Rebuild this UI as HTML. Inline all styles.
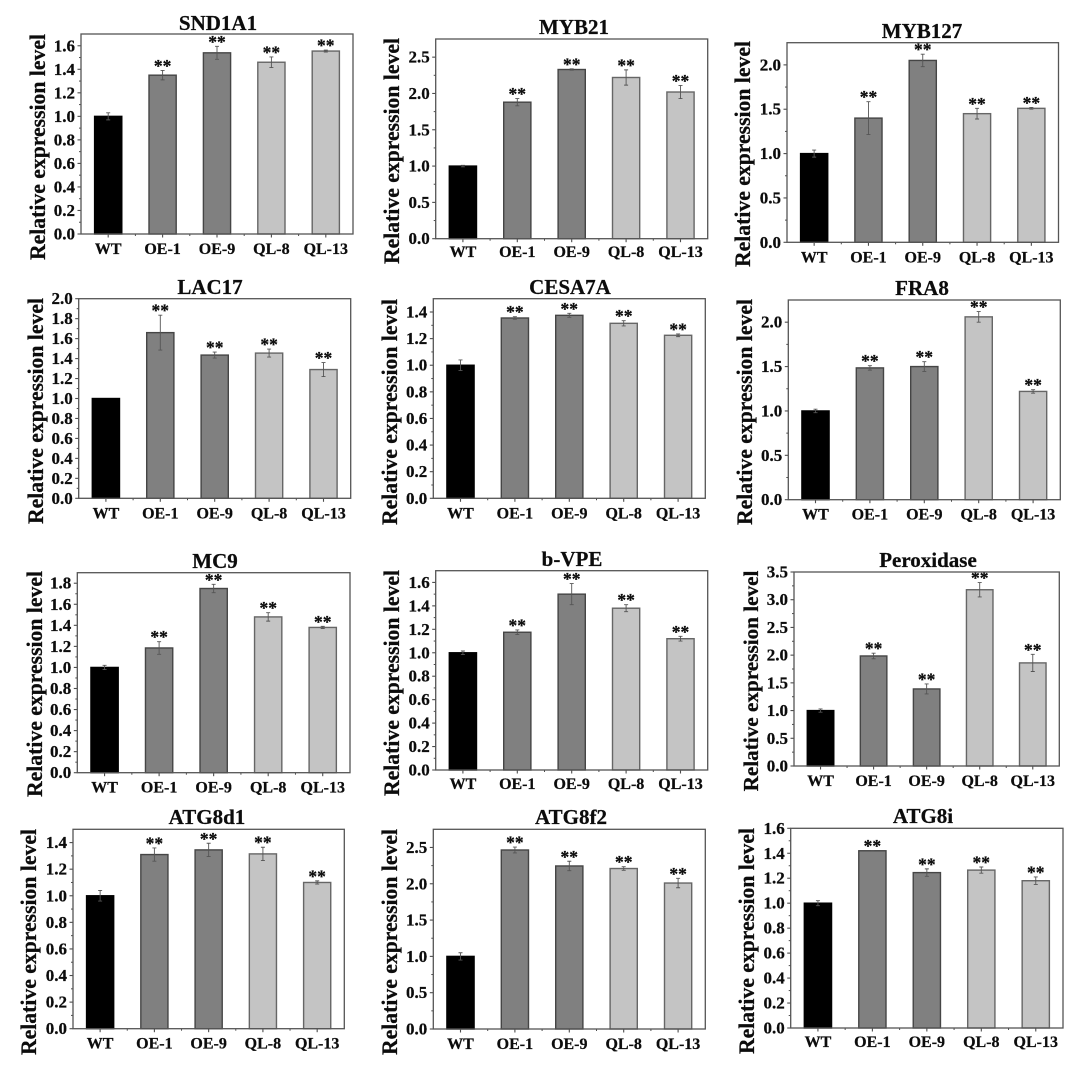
<!DOCTYPE html>
<html lang="en">
<head>
<meta charset="utf-8">
<title>Relative expression levels of twelve genes</title>
<style>
  html, body { margin: 0; padding: 0; background: #fff; width: 1084px; height: 1077px; overflow: hidden; }
  svg { display: block; filter: blur(0.35px); }
  text { font-family: "Liberation Serif", "Times New Roman", serif; font-weight: bold; fill: #0c0c0c; stroke: #0c0c0c; stroke-width: 0.25px; }
</style>
</head>
<body>
<svg id="figure" xmlns="http://www.w3.org/2000/svg" width="1084" height="1077" viewBox="0 0 1084 1077"></svg>
<script>
const categories = ['WT', 'OE-1', 'OE-9', 'QL-8', 'QL-13'];
const significance = ['', '**', '**', '**', '**'];
const yAxisTitle = 'Relative expression level';

const ticksTenths = [0, 0.2, 0.4, 0.6, 0.8, 1.0, 1.2, 1.4, 1.6];
const ticksToTwo = [0, 0.2, 0.4, 0.6, 0.8, 1.0, 1.2, 1.4, 1.6, 1.8, 2.0];
const ticksToEighteen = [0, 0.2, 0.4, 0.6, 0.8, 1.0, 1.2, 1.4, 1.6, 1.8];
const ticksToFourteen = [0, 0.2, 0.4, 0.6, 0.8, 1.0, 1.2, 1.4];
const ticksHalvesToTwo = [0, 0.5, 1.0, 1.5, 2.0];
const ticksHalvesToTwoFive = [0, 0.5, 1.0, 1.5, 2.0, 2.5];
const ticksHalvesToThreeFive = [0, 0.5, 1.0, 1.5, 2.0, 2.5, 3.0, 3.5];

const valuesSND1A1 = [1.0, 1.35, 1.54, 1.46, 1.555];
const errorsSND1A1 = [0.03, 0.04, 0.055, 0.045, 0.008];
const valuesMYB21 = [1.0, 1.88, 2.33, 2.22, 2.02];
const errorsMYB21 = [0.01, 0.05, 0.01, 0.105, 0.09];
const valuesMYB127 = [1.0, 1.4, 2.05, 1.45, 1.51];
const errorsMYB127 = [0.04, 0.185, 0.07, 0.06, 0.01];
const valuesLAC17 = [1.0, 1.66, 1.435, 1.455, 1.29];
const errorsLAC17 = [0, 0.175, 0.03, 0.04, 0.07];
const valuesCESA7A = [1.0, 1.355, 1.375, 1.315, 1.225];
const errorsCESA7A = [0.04, 0.01, 0.015, 0.02, 0.01];
const valuesFRA8 = [1.0, 1.485, 1.5, 2.06, 1.22];
const errorsFRA8 = [0.02, 0.025, 0.055, 0.06, 0.02];
const valuesMC9 = [1.0, 1.185, 1.75, 1.48, 1.38];
const errorsMC9 = [0.02, 0.06, 0.04, 0.04, 0.01];
const valuesBVPE = [1.0, 1.175, 1.5, 1.38, 1.12];
const errorsBVPE = [0.015, 0.02, 0.09, 0.03, 0.02];
const valuesPeroxidase = [1.0, 1.985, 1.39, 3.18, 1.86];
const errorsPeroxidase = [0.03, 0.05, 0.09, 0.13, 0.155];
const valuesATG8d1 = [1.0, 1.31, 1.345, 1.315, 1.1];
const errorsATG8d1 = [0.04, 0.05, 0.05, 0.05, 0.012];
const valuesATG8f2 = [1.0, 2.465, 2.245, 2.21, 2.01];
const errorsATG8f2 = [0.05, 0.04, 0.065, 0.025, 0.065];
const valuesATG8i = [1.0, 1.42, 1.245, 1.265, 1.18];
const errorsATG8i = [0.02, 0.003, 0.03, 0.025, 0.03];

const SVG_NS = 'http://www.w3.org/2000/svg';
const figure = document.getElementById('figure');
const barFills = ['#000000', '#808080', '#808080', '#c4c4c4', '#c4c4c4'];
const barStrokes = ['#000000', '#454545', '#454545', '#666666', '#666666'];

function make(parent, tag, attrs, content) {
  const el = document.createElementNS(SVG_NS, tag);
  for (const key in attrs) el.setAttribute(key, attrs[key]);
  if (content !== undefined) el.textContent = content;
  parent.appendChild(el);
  return el;
}

function linearY(frame, yMax) {
  return function (v) { return frame.bottom - (v / yMax) * (frame.bottom - frame.top); };
}

function bandX(frame, count) {
  const step = (frame.right - frame.left) / count;
  return function (i) { return frame.left + step * (i + 0.5); };
}

function drawPanel(title, slug, values, errors, ticks, yMax, frame) {
  const y = linearY(frame, yMax);
  const x = bandX(frame, categories.length);
  const step = (frame.right - frame.left) / categories.length;
  const barWidth = step * 0.5;

  const panel = make(figure, 'g', {});
  
  

  const titleEl = make(panel, 'text', { x: frame.titleX, y: frame.titleY, 'text-anchor': 'middle', 'font-size': 21 }, title);
  
  

  const yTitleEl = make(panel, 'text', {
    transform: 'translate(' + frame.yTitleX + ',' + frame.yTitleY + ') rotate(-90)',
    'text-anchor': 'middle',
    'font-size': frame.yTitleSize || 21.7
  }, yAxisTitle);
  
  

  values.forEach(function (value, i) {
    const top = y(value);
    const cx = x(i);
    const errTop = y(value + errors[i]);
    const errBottom = y(value - errors[i]);

    const bar = make(panel, 'rect', {
      x: cx - barWidth / 2, y: top, width: barWidth, height: frame.bottom - top,
      fill: barFills[i], stroke: barStrokes[i], 'stroke-width': 1.4
    });
    
    

    if (errors[i] > 0) {
      const whisker = make(panel, 'path', {
        d: 'M' + cx + ' ' + errTop + 'V' + errBottom +
           'M' + (cx - 2) + ' ' + errTop + 'H' + (cx + 2) +
           'M' + (cx - 2) + ' ' + errBottom + 'H' + (cx + 2),
        fill: 'none', stroke: '#555555', 'stroke-width': 0.9
      });
      
      
    }

    if (significance[i]) {
      const star = make(panel, 'text', { x: cx, y: errTop + 1.5, 'text-anchor': 'middle', 'font-size': 17.5 }, significance[i]);
      
      
    }

    const label = make(panel, 'text', {
      x: cx, y: frame.bottom + (frame.xLabelGap || 20), 'text-anchor': 'middle', 'font-size': 16
    }, categories[i]);
    
    

    const xTick = make(panel, 'line', {
      x1: cx, x2: cx, y1: frame.bottom, y2: frame.bottom + 3.5, stroke: '#4d4d4d', 'stroke-width': 1.1
    });
    
    

    if (i < values.length - 1) {
      const xMinor = make(panel, 'line', {
        x1: cx + step / 2, x2: cx + step / 2, y1: frame.bottom, y2: frame.bottom + 2, stroke: '#4d4d4d', 'stroke-width': 1
      });
      
      
    }
  });

  const spacing = ticks[1] - ticks[0];
  ticks.forEach(function (tick) {
    const ty = y(tick);
    const major = make(panel, 'line', {
      x1: frame.left - 3.5, x2: frame.left, y1: ty, y2: ty, stroke: '#4d4d4d', 'stroke-width': 1.1
    });
    
    

    const tickLabel = make(panel, 'text', {
      x: frame.left - 6, y: ty + 5.5, 'text-anchor': 'end', 'font-size': 17
    }, tick.toFixed(1));
    
    

    const minorValue = tick + spacing / 2;
    if (minorValue < yMax) {
      const my = y(minorValue);
      const minor = make(panel, 'line', {
        x1: frame.left - 2, x2: frame.left, y1: my, y2: my, stroke: '#4d4d4d', 'stroke-width': 1
      });
      
      
    }
  });

  const plotFrame = make(panel, 'rect', {
    x: frame.left, y: frame.top, width: frame.right - frame.left, height: frame.bottom - frame.top,
    fill: 'none', stroke: '#555555', 'stroke-width': 1.3
  });
  
  
}

drawPanel('SND1A1', 'snd1a1', valuesSND1A1, errorsSND1A1, ticksTenths, 1.7,
  { left: 81, right: 353, top: 34, bottom: 234, titleX: 218, titleY: 30, yTitleX: 45, yTitleY: 147 });
drawPanel('MYB21', 'myb21', valuesMYB21, errorsMYB21, ticksHalvesToTwoFive, 2.75,
  { left: 435.7, right: 707.7, top: 39, bottom: 238.7, titleX: 574, titleY: 34, yTitleX: 399, yTitleY: 151, xLabelGap: 18.5 });
drawPanel('MYB127', 'myb127', valuesMYB127, errorsMYB127, ticksHalvesToTwo, 2.25,
  { left: 787, right: 1058.5, top: 42.7, bottom: 242.3, titleX: 922, titleY: 38, yTitleX: 750, yTitleY: 154 });

drawPanel('LAC17', 'lac17', valuesLAC17, errorsLAC17, ticksToTwo, 2.0,
  { left: 78.7, right: 350.7, top: 298.7, bottom: 498.3, titleX: 210, titleY: 294, yTitleX: 43, yTitleY: 411 });
drawPanel('CESA7A', 'cesa7a', valuesCESA7A, errorsCESA7A, ticksToFourteen, 1.5,
  { left: 433.3, right: 705.3, top: 298.7, bottom: 498.3, titleX: 570, titleY: 294, yTitleX: 397, yTitleY: 412 });
drawPanel('FRA8', 'fra8', valuesFRA8, errorsFRA8, ticksHalvesToTwo, 2.25,
  { left: 788.3, right: 1060.3, top: 300, bottom: 499.7, titleX: 922, titleY: 295, yTitleX: 752, yTitleY: 412 });

drawPanel('MC9', 'mc9', valuesMC9, errorsMC9, ticksToEighteen, 1.9,
  { left: 77.3, right: 350, top: 572.7, bottom: 772.7, titleX: 215, titleY: 568, yTitleX: 42, yTitleY: 684 });
drawPanel('b-VPE', 'b-vpe', valuesBVPE, errorsBVPE, ticksTenths, 1.7,
  { left: 435.7, right: 707.7, top: 570.7, bottom: 770, titleX: 572, titleY: 566, yTitleX: 399, yTitleY: 683, xLabelGap: 19 });
drawPanel('Peroxidase', 'peroxidase', valuesPeroxidase, errorsPeroxidase, ticksHalvesToThreeFive, 3.5,
  { left: 794, right: 1059.3, top: 572, bottom: 766, titleX: 928, titleY: 567, yTitleX: 758, yTitleY: 681, yTitleSize: 21.2 });

drawPanel('ATG8d1', 'atg8d1', valuesATG8d1, errorsATG8d1, ticksToFourteen, 1.5,
  { left: 73, right: 344.3, top: 829.3, bottom: 1028.7, titleX: 207, titleY: 824, yTitleX: 36, yTitleY: 942 });
drawPanel('ATG8f2', 'atg8f2', valuesATG8f2, errorsATG8f2, ticksHalvesToTwoFive, 2.75,
  { left: 433.3, right: 705.3, top: 829.3, bottom: 1029, titleX: 571, titleY: 824, yTitleX: 397, yTitleY: 942 });
drawPanel('ATG8i', 'atg8i', valuesATG8i, errorsATG8i, ticksTenths, 1.6,
  { left: 790.7, right: 1063, top: 828.3, bottom: 1028, titleX: 923, titleY: 823, yTitleX: 754, yTitleY: 941, xLabelGap: 19 });
</script>
</body>
</html>
